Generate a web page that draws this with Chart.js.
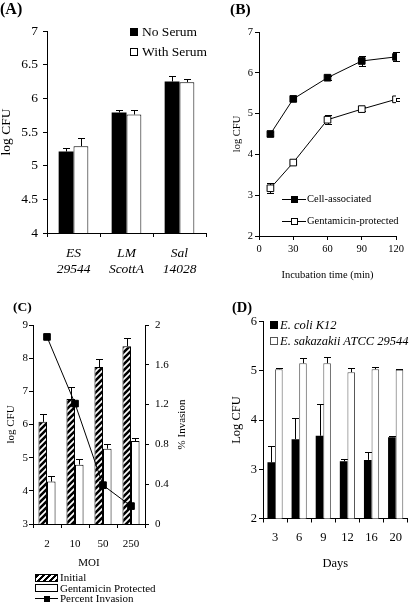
<!DOCTYPE html>
<html><head><meta charset="utf-8">
<script src="https://cdn.jsdelivr.net/npm/chart.js@4.4.1/dist/chart.umd.min.js"></script>
<style>
html,body{margin:0;padding:0;background:#fff}
body{position:relative;width:410px;height:604px;overflow:hidden;font-family:'Liberation Serif','Times New Roman',serif;color:#000}
canvas{position:absolute}
.t{position:absolute;white-space:nowrap;line-height:1}
.sq{position:absolute;box-sizing:border-box}
</style></head><body>
<canvas id="cA" width="215" height="290" style="left:0;top:0"></canvas>
<canvas id="cB" width="205" height="290" style="left:205px;top:0"></canvas>
<canvas id="cC" width="205" height="314" style="left:0;top:290px"></canvas>
<canvas id="cD" width="205" height="314" style="left:205px;top:290px"></canvas>
<script>
// ---------- Panel A ----------
const aCategories = [['ES','29544'],['LM','ScottA'],['Sal','14028']];
const aSeries = ['No Serum','With Serum'];
const aNoSerum = [5.21, 5.79, 6.25];
const aNoSerumErr = [0.05, 0.04, 0.08];
const aWithSerum = [5.29, 5.76, 6.24];
const aWithSerumErr = [0.12, 0.07, 0.05];
const aYTicks = [4, 4.5, 5, 5.5, 6, 6.5, 7];

// ---------- Panel B ----------
const bSeries = ['Cell-associated','Gentamicin-protected'];
const bTimes = [10, 30, 60, 90, 120];
const bCell = [4.50, 5.36, 5.88, 6.29, 6.39];
const bCellErr = [0.06, 0.04, 0.05, 0.13, 0.11];
const bGent = [3.17, 3.80, 4.85, 5.11, 5.35];
const bGentErr = [0.12, 0.04, 0.11, 0.04, 0.04];
const bXTicks = [0, 30, 60, 90, 120];
const bYTicks = [2, 3, 4, 5, 6, 7];

// ---------- Panel C ----------
const cMoi = ['2','10','50','250'];
const cSeries = ['Initial','Gentamicin Protected','Percent Invasion'];
const cInitial = [6.08, 6.77, 7.73, 8.36];
const cInitialErr = [0.25, 0.35, 0.24, 0.24];
const cGent = [4.28, 4.79, 5.27, 5.50];
const cGentErr = [0.16, 0.16, 0.14, 0.10];
const cInvasion = [1.88, 1.21, 0.39, 0.18];
const cYTicks = [3, 4, 5, 6, 7, 8, 9];
const cY1Ticks = [0, 0.4, 0.8, 1.2, 1.6, 2];

// ---------- Panel D ----------
const dDays = ['3','6','9','12','16','20'];
const dSeries = ['E. coli K12','E. sakazakii ATCC 29544'];
const dEcoli = [3.14, 3.61, 3.68, 3.16, 3.19, 3.65];
const dEcoliErr = [0.33, 0.43, 0.64, 0.05, 0.17, 0.03];
const dSak = [5.03, 5.15, 5.15, 4.97, 5.03, 5.02];
const dSakErr = [0.02, 0.10, 0.13, 0.08, 0.04, 0.01];
const dYTicks = [2, 3, 4, 5, 6];

const FONT = "'Liberation Serif','Times New Roman',serif";
Chart.defaults.font.family = FONT;
Chart.defaults.color = '#000';

const errorBars = {
  id: 'errorBars',
  beforeDatasetsDraw(chart) {
    const ctx = chart.ctx;
    chart.data.datasets.forEach((ds, i) => {
      if (!ds.errors) return;
      const meta = chart.getDatasetMeta(i);
      const ys = chart.scales[meta.yAxisID];
      ctx.save();
      ctx.strokeStyle = '#000';
      ctx.lineWidth = 1;
      ctx.beginPath();
      meta.data.forEach((el, j) => {
        const raw = ds.data[j];
        const v = (raw && typeof raw === 'object') ? raw.y : raw;
        const e = ds.errors[j];
        const x = Math.round(el.x);
        const xl = x + 0.5;
        const yT = Math.round(ys.getPixelForValue(v + e)) + 0.5;
        const yB = ds.errorBoth ? Math.round(ys.getPixelForValue(v - e)) + 0.5 : ys.getPixelForValue(v);
        const c = ds.errorCap || 3;
        ctx.moveTo(xl, yB); ctx.lineTo(xl, yT);
        ctx.moveTo(x - c, yT); ctx.lineTo(x + c + 1, yT);
        if (ds.errorBoth) { ctx.moveTo(x - c, yB); ctx.lineTo(x + c + 1, yB); }
      });
      ctx.stroke();
      ctx.restore();
    });
  }
};

const sideTitle = {
  id: 'sideTitle',
  afterDraw(chart, args, opts) {
    if (!opts || !opts.text) return;
    const ctx = chart.ctx, ca = chart.chartArea;
    ctx.save();
    ctx.translate(opts.x, (ca.top + ca.bottom) / 2);
    ctx.rotate(-Math.PI / 2);
    ctx.font = opts.size + 'px ' + FONT;
    ctx.fillStyle = '#000';
    ctx.textAlign = 'center';
    ctx.textBaseline = 'middle';
    ctx.fillText(opts.text, 0, 0);
    ctx.restore();
  }
};

const fmt = v => String(+(+v).toFixed(2));

function yAxis(o) {
  return {
    type: 'linear', position: o.position || 'left',
    min: o.ticks[0], max: o.ticks[o.ticks.length - 1],
    afterBuildTicks: s => { s.ticks = o.ticks.map(v => ({ value: v })); },
    afterFit: s => { s.width = o.width; },
    grid: { drawOnChartArea: false, drawTicks: true, tickLength: 4, color: '#000', lineWidth: 1 },
    border: { display: true, color: '#000', width: 1 },
    ticks: { font: { size: o.fs }, padding: o.tickPad, color: '#000', callback: fmt },
    title: o.title ? { display: true, text: o.title, color: '#000', font: { size: o.fs, lineHeight: o.tlh || 1.2 }, padding: { top: o.titlePad, bottom: 0 } } : { display: false }
  };
}

function xAxis(o) {
  const lin = o.type === 'linear';
  const ax = {
    type: lin ? 'linear' : 'category', position: 'bottom',
    offset: !lin,
    afterFit: s => { s.height = o.height; },
    grid: { drawOnChartArea: false, drawTicks: true, tickLength: 4, color: '#000', offset: !lin },
    border: { display: true, color: '#000', width: 1 },
    ticks: { font: { size: o.fs, style: o.italic ? 'italic' : 'normal', lineHeight: 1.15 }, padding: o.tickPad, color: '#000', maxRotation: 0, autoSkip: false },
    title: o.title ? { display: true, text: o.title, color: '#000', font: { size: o.fs }, padding: { top: 0, bottom: o.titlePad } } : { display: false }
  };
  if (lin) {
    ax.min = o.ticks[0]; ax.max = o.ticks[o.ticks.length - 1];
    ax.afterBuildTicks = s => { s.ticks = o.ticks.map(v => ({ value: v })); };
    ax.ticks.callback = fmt;
  }
  return ax;
}

const base = {
  responsive: false, animation: false, devicePixelRatio: 1, events: []
};

function hatchPattern() {
  const c = document.createElement('canvas');
  c.width = 6; c.height = 6;
  const g = c.getContext('2d');
  g.fillStyle = '#fff'; g.fillRect(0, 0, 6, 6);
  g.strokeStyle = '#000'; g.lineWidth = 2.6;
  g.beginPath();
  g.moveTo(-1, 7); g.lineTo(7, -1);
  g.moveTo(-4, 4); g.lineTo(4, -4);
  g.moveTo(2, 10); g.lineTo(10, 2);
  g.stroke();
  return document.getElementById('cC').getContext('2d').createPattern(c, 'repeat');
}

// ----- Chart A -----
new Chart(document.getElementById('cA'), {
  type: 'bar',
  data: { labels: aCategories, datasets: [
    { label: aSeries[0], data: aNoSerum, errors: aNoSerumErr, backgroundColor: '#000', borderColor: '#000', borderWidth: 0, errorCap: 3 },
    { label: aSeries[1], data: aWithSerum, errors: aWithSerumErr, backgroundColor: '#fff', borderColor: '#000', borderWidth: 1, errorCap: 3 }
  ]},
  options: { ...base,
    layout: { padding: { top: 31, right: 9, bottom: 0, left: 0 } },
    datasets: { bar: { categoryPercentage: 0.56, barPercentage: 1 } },
    plugins: { legend: { display: false }, tooltip: { enabled: false } },
    scales: {
      x: xAxis({ height: 57, fs: 13.5, italic: true, tickPad: 9 }),
      y: yAxis({ width: 47, ticks: aYTicks, fs: 13.5, tickPad: 5, title: 'log CFU', titlePad: 0, tlh: 0.9 })
    }
  },
  plugins: [errorBars]
});

// ----- Chart B -----
new Chart(document.getElementById('cB'), {
  type: 'line',
  data: { datasets: [
    { label: bSeries[0], data: bTimes.map((t, i) => ({ x: t, y: bCell[i] })), errors: bCellErr, errorBoth: true, errorCap: 3,
      borderColor: '#000', borderWidth: 1, pointStyle: 'rect', pointRadius: 4.7, pointBackgroundColor: '#000', pointBorderColor: '#000', pointBorderWidth: 1, tension: 0 },
    { label: bSeries[1], data: bTimes.map((t, i) => ({ x: t, y: bGent[i] })), errors: bGentErr, errorBoth: true, errorCap: 3,
      borderColor: '#000', borderWidth: 1, pointStyle: 'rect', pointRadius: 4.7, pointBackgroundColor: '#fff', pointBorderColor: '#000', pointBorderWidth: 1, tension: 0 }
  ]},
  options: { ...base,
    layout: { padding: { top: 32, right: 14, bottom: 0, left: 0 } },
    plugins: { legend: { display: false }, tooltip: { enabled: false } },
    scales: {
      x: xAxis({ type: 'linear', ticks: bXTicks, height: 54, fs: 10.5, tickPad: 3, title: 'Incubation time (min)', titlePad: 8 }),
      y: yAxis({ width: 54, ticks: bYTicks, fs: 10.5, tickPad: 2, title: 'log CFU', titlePad: 25.5 })
    }
  },
  plugins: [errorBars]
});

// ----- Chart C -----
new Chart(document.getElementById('cC'), {
  type: 'bar',
  data: { labels: cMoi, datasets: [
    { type: 'line', label: cSeries[2], data: cInvasion, yAxisID: 'y1', order: 0, borderColor: '#000', borderWidth: 1,
      pointStyle: 'rect', pointRadius: 4.7, pointBackgroundColor: '#000', pointBorderColor: '#000', tension: 0 },
    { label: cSeries[0], data: cInitial, errors: cInitialErr, yAxisID: 'y', order: 1, backgroundColor: hatchPattern(), borderColor: '#000', borderWidth: 1, errorCap: 3 },
    { label: cSeries[1], data: cGent, errors: cGentErr, yAxisID: 'y', order: 1, backgroundColor: '#fff', borderColor: '#000', borderWidth: 1, errorCap: 3 }
  ]},
  options: { ...base,
    layout: { padding: { top: 35, right: 0, bottom: 0, left: 0 } },
    datasets: { bar: { categoryPercentage: 0.61, barPercentage: 1 } },
    plugins: { legend: { display: false }, tooltip: { enabled: false },
      sideTitle: { text: '% Invasion', x: 182, size: 11 } },
    scales: {
      x: xAxis({ height: 80, fs: 11, tickPad: 10, title: 'MOI', titlePad: 34 }),
      y: yAxis({ width: 33, ticks: cYTicks, fs: 11, tickPad: 1, title: 'log CFU', titlePad: 5 }),
      y1: yAxis({ position: 'right', width: 60, ticks: cY1Ticks, fs: 11, tickPad: 6 })
    }
  },
  plugins: [errorBars, sideTitle]
});

// ----- Chart D -----
new Chart(document.getElementById('cD'), {
  type: 'bar',
  data: { labels: dDays, datasets: [
    { label: dSeries[0], data: dEcoli, errors: dEcoliErr, backgroundColor: '#000', borderColor: '#000', borderWidth: 0, errorCap: 3 },
    { label: dSeries[1], data: dSak, errors: dSakErr, backgroundColor: '#fff', borderColor: '#555', borderWidth: 1, errorCap: 3 }
  ]},
  options: { ...base,
    layout: { padding: { top: 31.5, right: 1, bottom: 0, left: 0 } },
    datasets: { bar: { categoryPercentage: 0.63, barPercentage: 1 } },
    plugins: { legend: { display: false }, tooltip: { enabled: false } },
    scales: {
      x: xAxis({ height: 85.5, fs: 12.5, tickPad: 8, title: 'Days', titlePad: 33 }),
      y: yAxis({ width: 58, ticks: dYTicks, fs: 12.5, tickPad: 2, title: 'Log CFU', titlePad: 24.5 })
    }
  },
  plugins: [errorBars]
});

// ---------- Panel letters and legends (HTML text) ----------
function txt(s, x, cy, size, extra) {
  const d = document.createElement('div');
  d.className = 't'; d.textContent = s;
  d.style.left = x + 'px'; d.style.top = (cy - size * 0.5) + 'px'; d.style.fontSize = size + 'px';
  if (extra) Object.assign(d.style, extra);
  document.body.appendChild(d);
}
function box(x, y, w, h, style) {
  const d = document.createElement('div');
  d.className = 'sq';
  Object.assign(d.style, { left: x + 'px', top: y + 'px', width: w + 'px', height: h + 'px' }, style || {});
  document.body.appendChild(d);
}
function lineMarker(x, cy, w, filled, m) {
  box(x, cy - 0.5, w, 1, { background: '#000' });
  box(x + w / 2 - m / 2, cy - m / 2, m, m, { background: filled ? '#000' : '#fff', border: '1px solid #000' });
}
const bold = { fontWeight: 'bold' };
txt('(A)', 0, 9, 16, bold);
txt('(B)', 230, 9, 15.5, bold);
txt('(C)', 13, 307, 13.5, bold);
txt('(D)', 232, 307, 14.5, bold);

// A legend
box(130, 28, 8, 8, { background: '#000' });
txt(aSeries[0], 142, 32, 13.5);
box(130, 48, 8, 8, { background: '#fff', border: '1px solid #000' });
txt(aSeries[1], 142, 52, 13.5);

// B legend
lineMarker(282, 199.5, 24, true, 7);
txt(bSeries[0], 307, 199.5, 10.5);
lineMarker(282, 221.5, 24, false, 7);
txt(bSeries[1], 307, 221.5, 10.5);

// C legend
box(35, 573.5, 23, 8, { border: '1px solid #000', background: 'repeating-linear-gradient(-45deg,#000 0 2px,#fff 2px 4.2px)' });
txt(cSeries[0], 60, 577.5, 11);
box(35, 584, 23, 8, { border: '1px solid #000', background: '#fff' });
txt(cSeries[1], 60, 588, 11);
lineMarker(35, 598.5, 23, true, 6);
txt(cSeries[2], 60, 598.5, 11);

// D legend
box(270, 321, 8, 8, { background: '#000' });
txt(dSeries[0], 280, 325, 12.5, { fontStyle: 'italic' });
box(270, 337, 8, 8, { background: '#fff', border: '1px solid #555' });
txt(dSeries[1], 280, 341, 12.5, { fontStyle: 'italic' });
</script>
</body></html>
